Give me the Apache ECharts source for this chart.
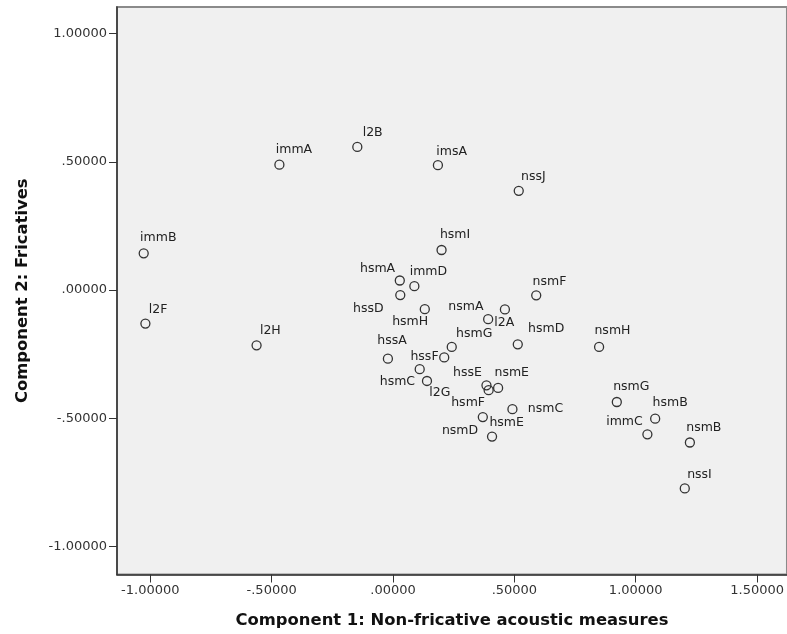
<!DOCTYPE html>
<html>
<head>
<meta charset="utf-8">
<script src="https://cdn.jsdelivr.net/npm/echarts@6/dist/echarts.min.js"></script>
<style>
  html, body { margin: 0; padding: 0; background: #fff; }
  #chart { width: 787px; height: 634px; }
</style>
</head>
<body>
<div id="chart"></div>
<script>
// Component scores for each speaker group
const names = ['immA','immB','l2F','l2H','l2B','imsA','nssJ','hsmI','hsmA','immD','hssD',
  'nsmF','hsmH','l2A','nsmA','hsmD','hsmG','hssF','hssA','hsmC','l2G','hssE','hsmF','nsmE',
  'nsmC','nsmD','hsmE','nsmH','nsmG','hsmB','immC','nsmB','nssI'];
const component1 = [-0.468,-1.027,-1.020,-0.562,-0.147,0.185,0.518,0.200,0.028,0.088,0.030,
  0.590,0.131,0.461,0.392,0.514,0.242,0.211,-0.021,0.110,0.140,0.385,0.394,0.433,
  0.492,0.370,0.408,0.849,0.922,1.080,1.048,1.223,1.202];
const component2 = [0.489,0.143,-0.131,-0.216,0.558,0.487,0.387,0.156,0.037,0.015,-0.020,
  -0.021,-0.075,-0.076,-0.114,-0.212,-0.222,-0.263,-0.268,-0.309,-0.355,-0.372,-0.391,-0.382,
  -0.465,-0.496,-0.572,-0.222,-0.437,-0.502,-0.563,-0.595,-0.774];
const xTicks = [-1, -0.5, 0, 0.5, 1, 1.5];
const yTicks = [-1, -0.5, 0, 0.5, 1];

// Where each point label sits: text alignment and pixel offset from the marker centre
const labelPlace = {
  immA:['left',-3,-14], immB:['left',-3,-15], l2F:['left',4,-13], l2H:['left',4,-14],
  l2B:['left',6,-14], imsA:['left',-1,-13], nssJ:['left',3,-13], hsmI:['left',-1,-15],
  hsmA:['right',-4,-11], immD:['left',-4,-14], hssD:['right',-16,14], nsmF:['left',-3,-13],
  hsmH:['left',-32,13], l2A:['left',-10,14], nsmA:['right',-4,-12], hsmD:['left',11,-15],
  hsmG:['left',5,-12], hssF:['right',-5,0], hssA:['left',-10,-17], hsmC:['right',-4,13],
  l2G:['left',3,12], hssE:['right',-4,-12], nsmE:['left',-3,-14], hsmF:['right',-3,13],
  nsmC:['left',16,0], nsmD:['right',-4,14], hsmE:['left',-2,-13], nsmH:['left',-4,-15],
  nsmG:['left',-3,-15], hsmB:['left',-2,-15], immC:['right',-4,-12], nsmB:['left',-3,-14],
  nssI:['left',3,-13]
};

const FONT = 'DejaVu Sans';
const SYMBOL = 9;
const fmt = v => {
  const s = Math.abs(v).toFixed(5).replace(/^0/, '');
  return (v < 0 ? '-' : '') + s;
};

const points = names.map((n, i) => {
  const p = labelPlace[n];
  return {
    name: n,
    value: [component1[i], component2[i]],
    label: {
      position: [SYMBOL / 2 + p[1], SYMBOL / 2 + p[2]],
      align: p[0],
      verticalAlign: 'middle'
    }
  };
});

const chart = echarts.init(document.getElementById('chart'), null, { renderer: 'canvas' });
chart.setOption({
  animation: false,
  backgroundColor: '#ffffff',
  grid: {
    left: 117, right: -2, top: 7, bottom: 59,
    show: true, backgroundColor: '#f0f0f0', borderColor: '#8a8a8a', borderWidth: 2
  },
  xAxis: {
    type: 'value',
    min: -1.137, max: 1.623,
    name: 'Component 1: Non-fricative acoustic measures',
    nameLocation: 'middle', nameGap: 38.5,
    nameTextStyle: { fontFamily: FONT, fontSize: 16.4, fontWeight: 'bold', color: '#111' },
    axisLine: { show: true, onZero: false, lineStyle: { color: '#333', width: 1.5 } },
    axisTick: { show: true, length: 8, lineStyle: { color: '#333' }, customValues: xTicks },
    axisLabel: { customValues: xTicks, formatter: fmt, fontFamily: FONT, fontSize: 13, color: '#333', margin: 10 },
    splitLine: { show: false }
  },
  yAxis: {
    type: 'value',
    min: -1.110, max: 1.104,
    name: 'Component 2: Fricatives',
    nameLocation: 'middle', nameGap: 86,
    nameTextStyle: { fontFamily: FONT, fontSize: 16.4, fontWeight: 'bold', color: '#111' },
    axisLine: { show: true, onZero: false, lineStyle: { color: '#333', width: 1.5 } },
    axisTick: { show: true, length: 8, lineStyle: { color: '#333' }, customValues: yTicks },
    axisLabel: { customValues: yTicks, formatter: fmt, fontFamily: FONT, fontSize: 13, color: '#333', margin: 10 },
    splitLine: { show: false }
  },
  series: [{
    type: 'scatter',
    symbol: 'circle',
    symbolSize: SYMBOL,
    itemStyle: { color: 'rgba(0,0,0,0)', borderColor: '#333', borderWidth: 1.3, opacity: 1 },
    label: {
      show: true, formatter: '{b}',
      fontFamily: FONT, fontSize: 12.5, color: '#222'
    },
    labelLayout: { hideOverlap: false },
    emphasis: { disabled: true },
    data: points
  }]
});
</script>
</body>
</html>
